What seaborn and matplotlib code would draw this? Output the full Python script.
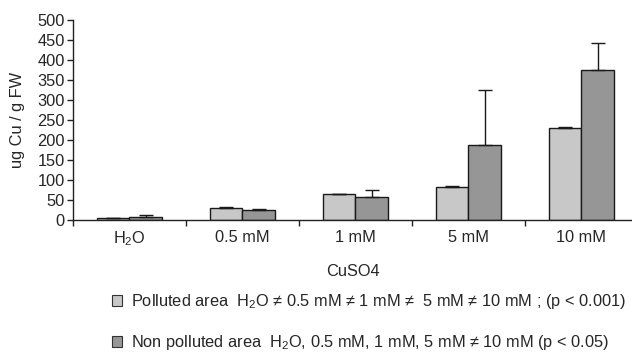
import matplotlib
matplotlib.use("Agg")
import matplotlib.pyplot as plt
import seaborn as sns
import pandas as pd
import numpy as np
from matplotlib.patches import Patch

categories = ["$\\mathregular{H_2O}$", "0.5 mM", "1 mM", "5 mM", "10 mM"]
polluted = [4, 31, 65, 83, 230]
polluted_err = [1, 1, 1, 3, 2]
non_polluted = [7, 24, 58, 188, 376]
non_polluted_err = [5, 3, 16, 136, 66]
groups = ["Polluted", "Non polluted"]
legend_labels = [
    "Polluted area  $\\mathregular{H_2O}$ \u2260 0.5 mM \u2260 1 mM \u2260  5 mM \u2260 10 mM ; (p < 0.001)",
    "Non polluted area  $\\mathregular{H_2O}$, 0.5 mM, 1 mM, 5 mM \u2260 10 mM (p < 0.05)",
]

sns.set_style("white")
plt.rcParams["font.family"] = ["Liberation Sans", "DejaVu Sans"]
plt.rcParams["mathtext.fontset"] = "custom"
plt.rcParams["mathtext.rm"] = "Liberation Sans"

FS = 11.8

df = pd.DataFrame({
    "cat": categories * 2,
    "val": polluted + non_polluted,
    "err": polluted_err + non_polluted_err,
    "group": [groups[0]] * 5 + [groups[1]] * 5,
})

fig = plt.figure(figsize=(6.32, 3.52), dpi=100)
ax = fig.add_axes([73 / 632, 1 - 220 / 352, 1 - 73 / 632, 200 / 352])

colors = ["#c8c8c8", "#969696"]
sns.barplot(data=df, x="cat", y="val", hue="group", palette=colors,
            edgecolor="#1a1a1a", linewidth=1.0, width=0.58, errorbar=None,
            ax=ax, legend=False, saturation=1)

# one-sided error bars
for container, g in zip(ax.containers, groups):
    sub = df[df["group"] == g]
    xs = [p.get_x() + p.get_width() / 2 for p in container.patches]
    ax.errorbar(xs, sub["val"].values, yerr=[np.zeros(len(sub)), sub["err"].values],
                fmt="none", ecolor="#1a1a1a", elinewidth=1.0, capsize=5, capthick=1.0)

ax.set_ylim(0, 500)
ax.set_xlim(-0.5, 4.447)
ax.set_yticks(np.arange(0, 501, 50))
ax.set_xticks(np.arange(-0.5, 4.0, 1.0))
ax.set_xticklabels([])
ax.set_xticks(range(5), minor=True)
ax.set_xticklabels(categories, minor=True)
ax.tick_params(axis="x", which="major", length=4, width=1, color="#222222", direction="out", bottom=True)
ax.tick_params(axis="x", which="minor", length=0, pad=7, labelsize=FS)
ax.tick_params(axis="y", length=4, width=1, color="#222222", direction="out", left=True, labelsize=FS, pad=2)
for s in ["top", "right"]:
    ax.spines[s].set_visible(False)
for s in ["left", "bottom"]:
    ax.spines[s].set_color("#222222")
    ax.spines[s].set_linewidth(1.0)

ax.set_xlabel("CuSO4", fontsize=FS, labelpad=11)
ax.set_ylabel("ug Cu / g FW", fontsize=FS, labelpad=9)

handles = [Patch(facecolor=c, edgecolor="#333333", linewidth=0.8) for c in colors]
fig.legend(handles, legend_labels, loc="upper left", bbox_to_anchor=(112 / 632, 1 - 292 / 352),
           frameon=False, fontsize=FS, labelspacing=1.35, handlelength=0.62, handleheight=0.62,
           handletextpad=0.55, borderpad=0, borderaxespad=0)

fig.savefig("out.png", dpi=100)
